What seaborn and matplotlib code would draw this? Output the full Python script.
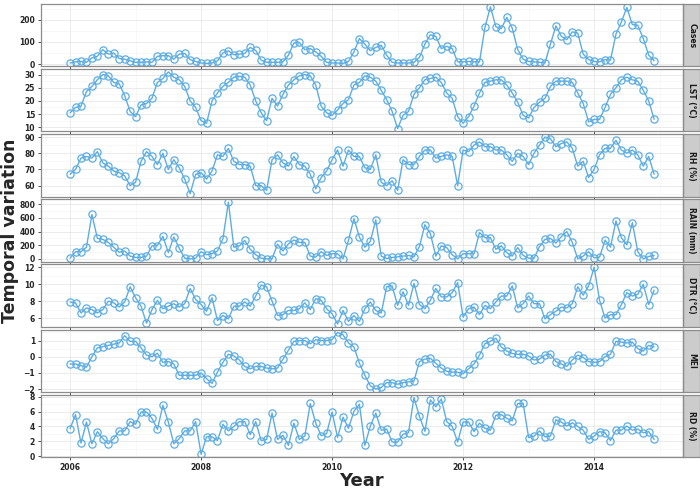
import pandas as pd
import matplotlib
matplotlib.use("Agg")
import matplotlib.pyplot as plt
from matplotlib.patches import Rectangle
from matplotlib.ticker import MultipleLocator, AutoMinorLocator
import seaborn as sns

YEARS = list(range(2006, 2015))
PANELS = ["Cases", "LST (°C)", "RH (%)", "RAIN (mm)", "DTR (°C)", "MEI", "RD (%)"]
TICK_STEP = [100, 5, 10, 200, 2, 1, 2]
X_TICKS = [2006, 2008, 2010, 2012, 2014]

# monthly values, Jan 2006 - Dec 2014
cases = [5, 10, 12, 8, 28, 35, 65, 45, 50, 25, 22, 15,
         8, 8, 10, 8, 35, 38, 38, 22, 45, 48, 20, 12,
         5, 3, 5, 15, 50, 60, 42, 45, 48, 75, 62, 18,
         8, 8, 8, 10, 40, 95, 98, 65, 70, 55, 35, 8,
         5, 5, 3, 12, 55, 115, 90, 60, 75, 85, 40, 8,
         5, 5, 5, 8, 30, 90, 132, 125, 70, 80, 70, 10,
         10, 12, 10, 10, 165, 258, 168, 160, 210, 162, 65, 22,
         12, 10, 8, 5, 90, 172, 125, 110, 145, 140, 45, 20,
         12, 10, 20, 18, 135, 190, 255, 178, 175, 115, 40, 15]
lst = [15.5, 17.5, 18, 23.5, 25.5, 28, 30, 29.5, 27, 26.5, 22, 16,
       14, 18.5, 19, 21, 27, 28.5, 31, 29, 28, 25.5, 20, 17.5,
       12.5, 11.5, 20, 23, 25.5, 27, 29, 29.3, 29, 26, 20, 15.5,
       12.5, 21, 18, 22.5, 26, 28, 29.5, 30, 29.5, 26, 18, 15.5,
       14.5, 16.5, 19, 20.5, 26, 27, 29.5, 29, 27.5, 24, 20.5, 16,
       9.5, 14.5, 16, 22.5, 25, 28, 28.5, 29, 27, 23, 21, 14,
       11.5, 14, 18, 23, 27, 27.5, 28, 28, 26, 23, 19.5, 14.5,
       13.5, 17.5, 19.5, 21, 25.5, 27.5, 27.5, 27.5, 27, 23, 19, 12,
       13, 13, 17.5, 22.5, 25, 28, 29, 28, 27.5, 24, 20, 13]
rh = [67, 70, 77, 78, 77, 81, 74, 72, 69, 68, 66, 60,
      62, 75, 81, 78, 73, 80, 70, 76, 71, 64, 55, 67,
      68, 64, 69, 79, 78, 83, 75, 73, 73, 72, 60, 60,
      57, 76, 79, 74, 72, 78, 73, 72, 67, 58, 65, 69,
      76, 82, 72, 82, 78, 78, 71, 70, 79, 62, 60, 63,
      57, 76, 73, 73, 78, 82, 82, 77, 78, 79, 78, 60,
      82, 81, 85, 87, 84, 84, 82, 82, 79, 75, 80, 78,
      73, 80, 85, 90, 89, 84, 86, 87, 83, 72, 75, 65,
      70, 79, 83, 83, 88, 82, 80, 82, 79, 72, 78, 67]
rain = [10, 105, 105, 170, 650, 300, 285, 240, 170, 95, 115, 40,
        20, 20, 40, 190, 195, 330, 90, 320, 155, 10, 0, 10,
        105, 60, 75, 115, 295, 830, 170, 190, 270, 140, 60, 10,
        0, 0, 215, 115, 220, 275, 240, 240, 40, 25, 105, 50,
        75, 75, 0, 270, 590, 320, 170, 255, 570, 40, 5, 20,
        30, 40, 50, 30, 180, 500, 370, 40, 190, 165, 60, 0,
        75, 75, 75, 385, 310, 310, 140, 190, 90, 40, 165, 50,
        10, 10, 180, 285, 300, 230, 325, 400, 240, 0, 40, 105,
        15, 25, 275, 170, 555, 310, 205, 530, 105, 0, 35, 50]
dtr = [7.9, 7.8, 6.6, 7.2, 7.0, 6.6, 7.0, 8.0, 7.8, 7.3, 7.9, 9.7,
       8.4, 7.4, 5.4, 7.0, 8.1, 7.1, 7.4, 7.7, 7.3, 7.7, 9.5, 8.2,
       7.6, 6.8, 8.4, 5.7, 6.3, 5.9, 7.4, 7.4, 7.9, 7.4, 8.6, 9.9,
       9.7, 8.0, 6.3, 6.4, 6.9, 6.9, 7.1, 7.8, 7.0, 8.3, 8.1, 7.1,
       6.5, 5.3, 6.9, 5.6, 6.3, 5.6, 7.1, 7.9, 6.9, 6.6, 9.7, 9.8,
       7.5, 9.1, 7.5, 10.1, 7.6, 7.1, 8.1, 9.5, 8.5, 8.5, 9.0, 10.2,
       6.1, 7.1, 7.3, 6.4, 7.5, 7.1, 7.9, 8.6, 8.6, 9.8, 7.2, 7.7,
       8.6, 7.7, 7.7, 5.9, 6.4, 6.8, 7.3, 7.2, 7.7, 9.7, 8.7, 9.8,
       12.0, 8.1, 6.0, 6.4, 6.4, 7.6, 9.0, 8.6, 8.8, 10.0, 7.6, 9.3]
mei = [-0.45, -0.45, -0.55, -0.65, 0.0, 0.55, 0.62, 0.7, 0.78, 0.85, 1.3, 0.95,
       0.95, 0.55, 0.1, 0.0, 0.22, -0.35, -0.3, -0.45, -1.15, -1.15, -1.15, -1.15,
       -1.0, -1.35, -1.65, -0.95, -0.35, 0.15, 0.05, -0.2, -0.6, -0.75, -0.6, -0.6,
       -0.7, -0.75, -0.7, -0.15, 0.4, 0.95, 1.0, 1.0, 0.8, 1.05, 1.0, 1.0,
       1.05, 1.5, 1.35, 0.85, 0.6, -0.4, -1.15, -1.8, -2.0, -1.9, -1.6, -1.6,
       -1.7, -1.6, -1.55, -1.5, -0.3, -0.15, -0.1, -0.4, -0.7, -0.9, -0.95, -0.95,
       -1.05, -0.75, -0.45, 0.1, 0.8, 0.95, 1.15, 0.6, 0.35, 0.2, 0.15, 0.15,
       0.05, -0.2, -0.15, 0.1, 0.15, -0.3, -0.45, -0.6, -0.2, 0.1, -0.05, -0.3,
       -0.35, -0.3, 0.0, 0.15, 0.95, 0.9, 0.85, 0.9, 0.5, 0.35, 0.7, 0.6]
rd = [3.7, 5.6, 1.75, 4.6, 1.65, 3.3, 2.35, 1.65, 2.35, 3.4, 3.4, 4.65,
      4.3, 5.95, 5.95, 5.1, 3.6, 6.85, 4.6, 1.65, 2.35, 3.4, 3.4, 4.65,
      0.25, 2.6, 2.6, 2.1, 4.3, 3.4, 4.0, 4.65, 4.65, 2.9, 4.65, 2.1,
      2.25, 5.8, 2.25, 2.8, 1.45, 4.45, 2.25, 2.7, 7.1, 4.45, 2.75, 3.05,
      5.95, 2.5, 5.25, 3.75, 6.05, 7.0, 1.45, 4.05, 5.8, 3.5, 3.65, 1.9,
      1.9, 2.95, 3.15, 7.9, 5.35, 3.35, 7.6, 6.65, 7.7, 4.65, 4.0, 1.9,
      4.6, 4.6, 3.3, 4.45, 3.75, 3.5, 5.5, 5.6, 5.1, 4.75, 7.1, 7.1,
      2.5, 2.7, 3.4, 2.6, 2.7, 4.9, 4.6, 4.05, 4.5, 4.0, 3.5, 2.25,
      2.7, 3.3, 3.15, 2.1, 3.5, 3.5, 4.05, 3.5, 3.65, 3.15, 3.3, 2.25]

SERIES = [cases, lst, rh, rain, dtr, mei, rd]
LINE_COLOR = "#5dade2"

time = [y + m / 12 for y in YEARS for m in range(12)]
df = pd.concat([pd.DataFrame({"time": time, "value": vals, "variable": name})
                for name, vals in zip(PANELS, SERIES)], ignore_index=True)

sns.set_theme(style="whitegrid")
plt.rcParams["font.family"] = ["DejaVu Sans"]

fig, axes = plt.subplots(len(PANELS), 1, figsize=(7, 4.92), dpi=100, sharex=True)
fig.subplots_adjust(left=0.058, right=0.976, top=0.992, bottom=0.071, hspace=0.045)

for ax, name, step in zip(axes, PANELS, TICK_STEP):
    sub = df[df["variable"] == name]
    sns.lineplot(data=sub, x="time", y="value", ax=ax, color=LINE_COLOR,
                 linewidth=1.0, marker="o", markersize=5.2,
                 markerfacecolor="none", markeredgecolor=LINE_COLOR,
                 markeredgewidth=0.9)
    ax.margins(x=0.05, y=0.05)
    ax.set_xlabel("")
    ax.set_ylabel("")
    ax.yaxis.set_major_locator(MultipleLocator(step))
    ax.yaxis.set_minor_locator(AutoMinorLocator(2))
    ax.xaxis.set_minor_locator(MultipleLocator(1))
    ax.set_xticks(X_TICKS)
    ax.grid(which="major", color="#e8e8e8", linewidth=0.6)
    ax.grid(which="minor", color="#f4f4f4", linewidth=0.5)
    ax.set_axisbelow(True)
    for sp in ax.spines.values():
        sp.set_color("#8c8c8c")
        sp.set_linewidth(0.9)
    ax.tick_params(axis="y", which="major", left=True, length=2.5, width=0.6,
                   color="#333333", labelsize=5.5, pad=1.5)
    ax.tick_params(axis="x", which="major", bottom=True, length=2.5, width=0.6,
                   color="#333333", labelsize=5.5, pad=2)
    for lab in ax.get_yticklabels() + ax.get_xticklabels():
        lab.set_fontweight("bold")
    # facet strip on the right
    ax.add_patch(Rectangle((1.0, 0.0), 0.0265, 1.0, transform=ax.transAxes,
                           facecolor="#cccccc", edgecolor="#8c8c8c",
                           linewidth=0.9, clip_on=False))
    ax.text(1.0132, 0.5, name, transform=ax.transAxes, rotation=-90,
            ha="center", va="center", fontsize=5.5, fontweight="bold",
            color="#1a1a1a")

axes[-1].set_xlim(2005.55, 2015.36)
for lab in axes[-1].get_xticklabels():
    lab.set_fontweight("bold")

fig.text(0.014, 0.53, "Temporal variation", rotation=90, ha="center",
         va="center", fontsize=12.5, fontweight="bold")
fig.text(0.516, 0.022, "Year", ha="center", va="center",
         fontsize=13, fontweight="bold")

fig.savefig("out.png", dpi=100)
